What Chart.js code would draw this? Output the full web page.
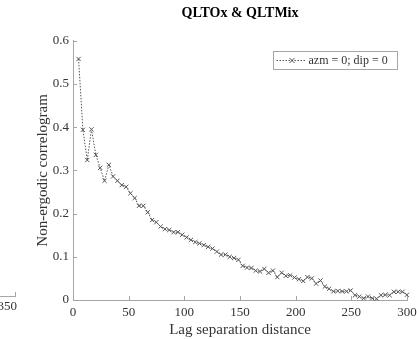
<!DOCTYPE html>
<html lang="en">
<head>
    <meta charset="UTF-8">
    <title>QLTOx &amp; QLTMix</title>
    <script src="https://cdn.jsdelivr.net/npm/chart.js"></script>
    <style>
        html, body { margin: 0; padding: 0; background: #ffffff; }
        #wrap { width: 417px; height: 339px; }
    </style>
</head>
<body>
    <div id="wrap"><canvas id="myChart" width="417" height="339"></canvas></div>

    <script>
        // lag separation distances (x)
        var lags = [5, 8.9, 12.8, 16.6, 20.5, 24.4, 28.3, 32.2, 36.0, 39.9,
            43.8, 47.7, 51.6, 55.4, 59.3, 63.2, 67.1, 71.0, 74.8, 78.7,
            82.6, 86.5, 90.4, 94.2, 98.1, 102.0, 105.9, 109.8, 113.6, 117.5,
            121.4, 125.3, 129.2, 133.0, 136.9, 140.8, 144.7, 148.6, 152.4, 156.3,
            160.2, 164.1, 168.0, 171.8, 175.7, 179.6, 183.5, 187.4, 191.2, 195.1,
            199.0, 202.9, 206.8, 210.6, 214.5, 218.4, 222.3, 226.2, 230.0, 233.9,
            237.8, 241.7, 245.6, 249.4, 253.3, 257.2, 261.1, 265.0, 268.8, 272.7,
            276.6, 280.5, 284.4, 288.2, 292.1, 296.0, 299.9];

        // correlogram values, azm = 0; dip = 0
        var correlogram = [0.558, 0.394, 0.324, 0.395, 0.336, 0.306, 0.276, 0.313, 0.286, 0.276,
            0.266, 0.262, 0.247, 0.236, 0.218, 0.218, 0.203, 0.185, 0.180, 0.170,
            0.164, 0.162, 0.157, 0.157, 0.151, 0.145, 0.139, 0.134, 0.131, 0.127,
            0.123, 0.119, 0.112, 0.105, 0.105, 0.100, 0.097, 0.093, 0.079, 0.075,
            0.074, 0.068, 0.066, 0.072, 0.063, 0.068, 0.053, 0.063, 0.056, 0.057,
            0.052, 0.048, 0.044, 0.053, 0.050, 0.038, 0.045, 0.031, 0.026, 0.020,
            0.021, 0.020, 0.020, 0.022, 0.011, 0.008, 0.004, 0.008, 0.004, 0.003,
            0.011, 0.012, 0.011, 0.019, 0.019, 0.019, 0.012];

        var xTicks = [0, 50, 100, 150, 200, 250, 300];
        var yTicks = [0, 0.1, 0.2, 0.3, 0.4, 0.5, 0.6];

        var seriesLabel = 'azm = 0; dip = 0';
        var serif = "'Liberation Serif', 'Times New Roman', serif";
        var axisColor = '#a6a6a6';
        var textColor = '#333333';
        var lineColor = '#555555';

        var points = lags.map(function (l, i) { return { x: l, y: correlogram[i] }; });

        // MATLAB style ticks pointing into the axes
        var inwardTicks = {
            id: 'inwardTicks',
            afterDraw: function (chart) {
                var ctx = chart.ctx, a = chart.chartArea;
                var xs = chart.scales.x, ys = chart.scales.y;
                ctx.save();
                ctx.strokeStyle = axisColor;
                ctx.lineWidth = 1;
                xs.ticks.forEach(function (t) {
                    var px = Math.round(xs.getPixelForValue(t.value)) + 0.5;
                    ctx.beginPath();
                    ctx.moveTo(px, a.bottom);
                    ctx.lineTo(px, a.bottom - 4);
                    ctx.stroke();
                });
                ys.ticks.forEach(function (t) {
                    var py = Math.round(ys.getPixelForValue(t.value)) + 0.5;
                    ctx.beginPath();
                    ctx.moveTo(a.left, py);
                    ctx.lineTo(a.left + 4, py);
                    ctx.stroke();
                });

                // cut-off neighbour subplot at the left edge
                ctx.beginPath();
                ctx.moveTo(0, 296.5);
                ctx.lineTo(16, 296.5);
                ctx.moveTo(15.5, 296.5);
                ctx.lineTo(15.5, 292);
                ctx.stroke();
                ctx.fillStyle = textColor;
                ctx.font = '13px ' + serif;
                ctx.textAlign = 'right';
                ctx.textBaseline = 'top';
                ctx.fillText('350', 17, 300);
                ctx.restore();
            }
        };

        // legend box with dotted line and marker
        var lineLegend = {
            id: 'lineLegend',
            afterDraw: function (chart) {
                var ctx = chart.ctx;
                var x0 = 273.5, y0 = 51.5, w = 124, h = 18;
                ctx.save();
                ctx.fillStyle = '#ffffff';
                ctx.fillRect(x0, y0, w, h);
                ctx.strokeStyle = axisColor;
                ctx.lineWidth = 1;
                ctx.strokeRect(x0, y0, w, h);
                var cy = y0 + h / 2;
                ctx.strokeStyle = lineColor;
                ctx.setLineDash([1.5, 1.5]);
                ctx.beginPath();
                ctx.moveTo(x0 + 3, cy);
                ctx.lineTo(x0 + 33, cy);
                ctx.stroke();
                ctx.setLineDash([]);
                ctx.beginPath();
                ctx.moveTo(x0 + 16, cy - 2.5); ctx.lineTo(x0 + 21, cy + 2.5);
                ctx.moveTo(x0 + 21, cy - 2.5); ctx.lineTo(x0 + 16, cy + 2.5);
                ctx.stroke();
                ctx.fillStyle = textColor;
                ctx.font = '12px ' + serif;
                ctx.textAlign = 'left';
                ctx.textBaseline = 'middle';
                ctx.fillText(seriesLabel, x0 + 35, cy + 0.5);
                ctx.restore();
            }
        };

        var ctx = document.getElementById('myChart').getContext('2d');

        var myChart = new Chart(ctx, {
            type: 'scatter',
            data: {
                datasets: [{
                    label: seriesLabel,
                    data: points,
                    showLine: true,
                    borderColor: lineColor,
                    borderWidth: 1,
                    borderDash: [1.5, 1.5],
                    pointStyle: 'crossRot',
                    pointRadius: 3,
                    pointBorderColor: lineColor,
                    pointBorderWidth: 1,
                    tension: 0,
                    clip: false
                }]
            },
            options: {
                responsive: false,
                animation: false,
                events: [],
                layout: { padding: { left: 34, right: 10, top: 0, bottom: 0 } },
                plugins: {
                    legend: { display: false },
                    tooltip: { enabled: false },
                    title: {
                        display: true,
                        text: 'QLTOx & QLTMix',
                        fullSize: false,
                        color: '#000000',
                        font: { family: serif, size: 14, weight: 'bold' },
                        padding: { top: 5, bottom: 19 }
                    }
                },
                scales: {
                    x: {
                        type: 'linear',
                        min: 0,
                        max: 300,
                        afterBuildTicks: function (s) { s.ticks = xTicks.map(function (v) { return { value: v }; }); },
                        afterFit: function (s) {
                            s.height = 39;
                            s.paddingLeft = 0;
                            s.paddingRight = 0;
                        },
                        grid: { drawOnChartArea: false, drawTicks: false },
                        border: { color: axisColor },
                        ticks: { color: textColor, padding: 5, font: { family: serif, size: 13 } },
                        title: {
                            display: true,
                            text: 'Lag separation distance',
                            color: textColor,
                            padding: { top: 0, bottom: 0 },
                            font: { family: serif, size: 15 }
                        }
                    },
                    y: {
                        type: 'linear',
                        min: 0,
                        max: 0.6,
                        afterBuildTicks: function (s) { s.ticks = yTicks.map(function (v) { return { value: v }; }); },
                        afterFit: function (s) { s.width = 39; },
                        grid: { drawOnChartArea: false, drawTicks: false },
                        border: { color: axisColor },
                        ticks: {
                            color: textColor,
                            padding: 4,
                            font: { family: serif, size: 13 },
                            callback: function (v) { return String(Math.round(v * 10) / 10); }
                        },
                        title: {
                            display: true,
                            text: 'Non-ergodic correlogram',
                            color: textColor,
                            padding: { top: 0, bottom: 0 },
                            font: { family: serif, size: 15 }
                        }
                    }
                }
            },
            plugins: [inwardTicks, lineLegend]
        });
    </script>
</body>
</html>
